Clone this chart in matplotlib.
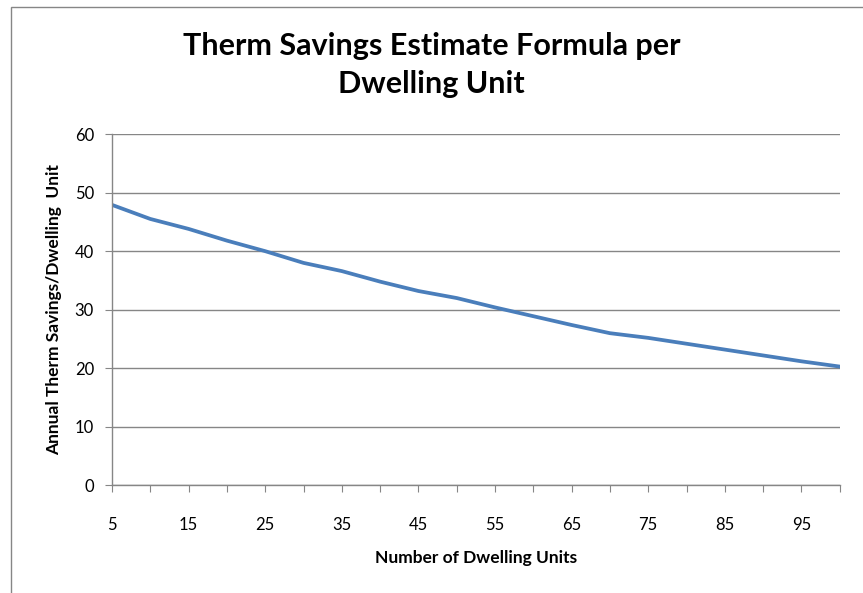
import numpy as np
import matplotlib.pyplot as plt
from matplotlib.patches import Rectangle

# data
units = [5, 10, 15, 20, 25, 30, 35, 40, 45, 50,
         55, 60, 65, 70, 75, 80, 85, 90, 95, 100]
savings = [47.9, 45.5, 43.8, 41.8, 40.0, 38.0, 36.6, 34.8, 33.2, 32.0,
           30.4, 28.9, 27.4, 26.0, 25.2, 24.2, 23.2, 22.2, 21.2, 20.3]

plt.rcParams['font.family'] = ['Lato', 'DejaVu Sans']
grey = '#868686'

fig = plt.figure(figsize=(8.63, 5.93), dpi=100)
ax = fig.add_axes([0.1298, 0.1813, 0.8432, 0.5927])

# category axis, points on tick marks
pos = np.arange(len(units))
ax.plot(pos, savings, color='#4A7EBB', linewidth=2.7, solid_capstyle='round')

ax.set_xlim(0, len(units) - 1)
ax.set_ylim(0, 60)
ax.set_yticks(range(0, 61, 10))
ax.set_xticks(pos)
ax.set_xticklabels([str(u) if i % 2 == 0 else '' for i, u in enumerate(units)])

ax.grid(axis='y', color=grey, linewidth=1)
ax.set_axisbelow(True)
for s in ['top', 'right']:
    ax.spines[s].set_visible(False)
for s in ['left', 'bottom']:
    ax.spines[s].set_color(grey)
    ax.spines[s].set_linewidth(1)
ax.tick_params(axis='x', direction='out', length=5, color=grey, pad=18, labelsize=12)
ax.tick_params(axis='y', direction='out', length=5, color=grey, pad=8, labelsize=12)

ax.set_xlabel('Number of Dwelling Units', fontsize=12.5, fontweight='bold', labelpad=12)
ax.set_ylabel('Annual Therm Savings/Dwelling  Unit', fontsize=12.5, fontweight='bold', labelpad=9)

fig.text(0.5, 0.89, 'Therm Savings Estimate Formula per\nDwelling Unit',
         ha='center', va='center', fontsize=22, fontweight='bold', linespacing=1.45)

# chart area border, cropped on the right and bottom
fig.patches.append(Rectangle((11 / 863, -0.1), 1.0, 1.1 - 7 / 593,
                             transform=fig.transFigure, fill=False,
                             edgecolor=grey, linewidth=1))

fig.savefig('out.png', dpi=100)
